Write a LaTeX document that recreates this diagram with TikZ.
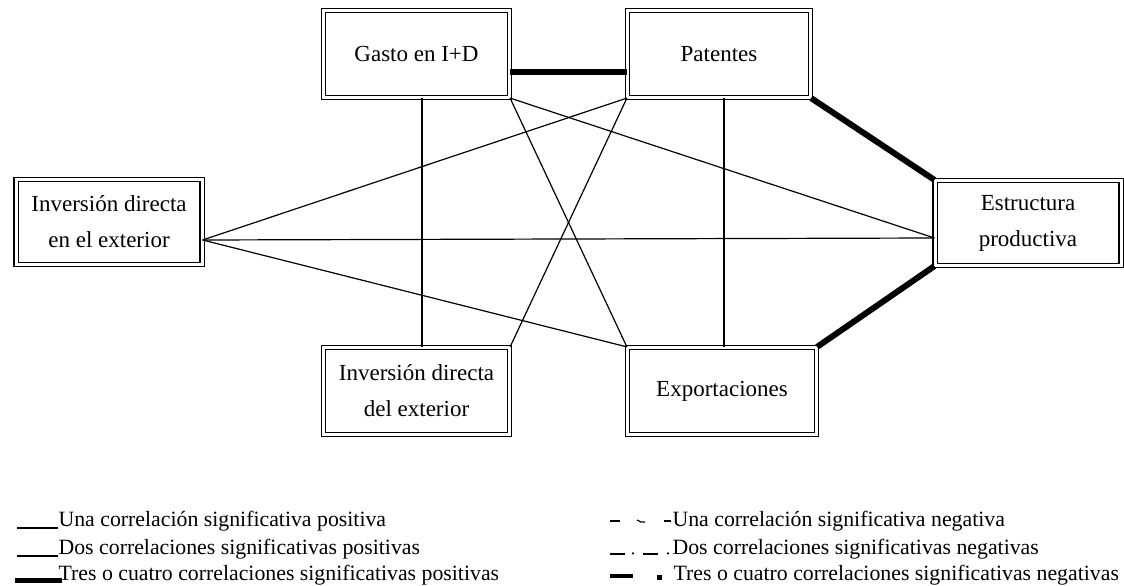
\documentclass[tikz,border=0pt]{standalone}
\usepackage{fontspec}
\setmainfont{Liberation Serif}
\usetikzlibrary{positioning}

\begin{document}
\begin{tikzpicture}[on grid, line width=0.6pt,
    box/.style={draw, double, double distance=1.5pt, line width=0.6pt,
        minimum width=93pt, minimum height=43.5pt, align=center,
        font=\fontsize{11.5}{18}\selectfont},
    corrone/.style={line width=0.6pt},
    corrthree/.style={line width=3pt},
    lbl/.style={anchor=base west, inner sep=0pt, font=\fontsize{10.9}{14}\selectfont}]
    % Layout: two rows of boxes, one box at each side
    \useasboundingbox (0,0) rectangle (562pt,292.5pt);

    \node[box] (gasto) at (208.25pt,265.5pt) {Gasto en I+D};
    \node[box, minimum width=91.5pt] (pat) [right=151.25pt of gasto] {Patentes};
    \node[box] (idx) [below=168.5pt of gasto] {Inversión directa\\del exterior};
    \node[box, minimum width=94.5pt] (exp) [right=152.75pt of idx] {Exportaciones};
    \node[box, minimum height=42.5pt] (ide) at (54.5pt,181.5pt) {Inversión directa\\en el exterior};
    \node[box, minimum height=42.5pt] (est) at (514pt,181pt) {Estructura\\productiva};

    % meeting points on the side boxes
    \coordinate (ide-p) at ([yshift=-9pt]ide.east);
    \coordinate (est-p) at ([yshift=-7.5pt]est.west);

    % Correlations
    \draw[corrthree] ([yshift=-9pt]gasto.east) -- ([yshift=-9pt]pat.west);
    \draw[corrthree] (pat.south east) -- (est.north west);
    \draw[corrthree] (exp.north east) -- (est.south west);
    \draw[corrone] ([xshift=2.75pt]gasto.south) -- ([xshift=2.75pt]idx.north);
    \draw[corrone] ([xshift=1pt]exp.north) -- ([xshift=1pt]exp.north |- pat.south);
    \draw[corrone] (gasto.south east) -- (exp.north west);
    \draw[corrone] (gasto.south east) -- (est-p);
    \draw[corrone] (pat.south west) -- (ide-p);
    \draw[corrone] (pat.south west) -- (idx.north east);
    \draw[corrone] (ide-p) -- (est-p);
    \draw[corrone] (ide-p) -- (exp.north west);

    % Legend, positive
    \draw[corrone] (8.5pt,28.5pt) -- (29pt,28.5pt);
    \draw[corrone] (8.5pt,14.5pt) -- (29pt,14.5pt);
    \draw[line width=2.5pt] (7.5pt,2.5pt) -- (31pt,2.5pt);
    \node[lbl] (l1) at (29pt,29.5pt) {Una correlación significativa positiva};
    \node[lbl] (l2) at (29pt,15.5pt) {Dos correlaciones significativas positivas};
    \node[lbl] (l3) at (29pt,2.5pt) {Tres o cuatro correlaciones significativas positivas};

    % Legend, negative
    \draw[corrone] (305pt,32pt) -- (310pt,32pt);
    \draw[corrone] (318.5pt,32.5pt) -- (320.5pt,31.5pt) -- (322.5pt,31.5pt);
    \draw[corrone] (332pt,32pt) -- (335.5pt,32pt);
    \draw[corrone] (305pt,15.5pt) -- (312.5pt,15.5pt);
    \fill (316.5pt,15.8pt) circle (0.6pt);
    \draw[corrone] (321.5pt,15.5pt) -- (329pt,15.5pt);
    \fill (334pt,15.8pt) circle (0.6pt);
    \draw[line width=2pt] (305pt,4.5pt) -- (316.5pt,4.5pt);
    \fill (328.5pt,2.5pt) rectangle (331pt,5pt);
    \node[lbl] (r1) at (336pt,29.5pt) {Una correlación significativa negativa};
    \node[lbl] (r2) at (336pt,15.5pt) {Dos correlaciones significativas negativas};
    \node[lbl] (r3) at (336.5pt,2.5pt) {Tres o cuatro correlaciones significativas negativas};
\end{tikzpicture}
\end{document}
